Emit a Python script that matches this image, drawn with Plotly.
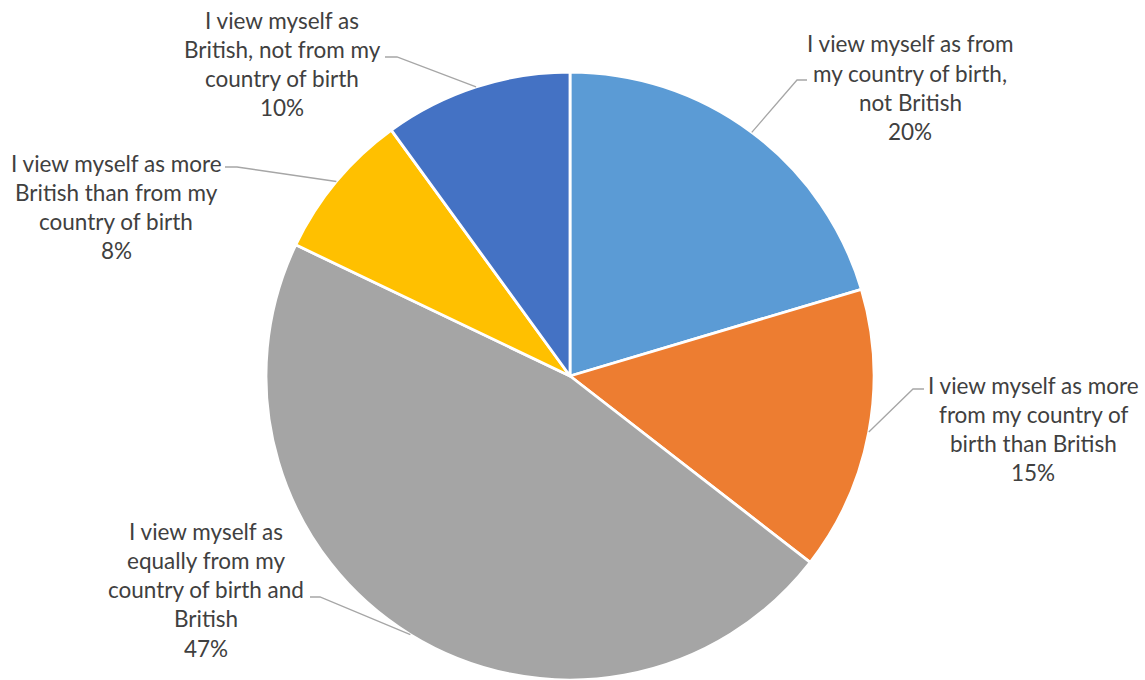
import math
import plotly.graph_objects as go

# ---- data ----
categories = [
    "I view myself as from my country of birth, not British",
    "I view myself as more from my country of birth than British",
    "I view myself as equally from my country of birth and British",
    "I view myself as more British than from my country of birth",
    "I view myself as British, not from my country of birth",
]
values = [20.4, 15.1, 46.6, 7.9, 10.0]
label_lines = [
    ["I view myself as from", "my country of birth,", "not British"],
    ["I view myself as more", "from my country of", "birth than British"],
    ["I view myself as", "equally from my", "country of birth and", "British"],
    ["I view myself as more", "British than from my", "country of birth"],
    ["I view myself as", "British, not from my", "country of birth"],
]
colors = ["#5B9BD5", "#ED7D31", "#A5A5A5", "#FFC000", "#4472C4"]

# ---- layout (pixels) ----
W, H = 1145, 680
CX, CY, R = 570, 376, 304
# label block: centre x, first line centre y ; knee (text end, knee end)
label_pos = [
    (910, 44, (807, 80), (797, 80)),
    (1033, 385, (924, 389), (913, 389)),
    (206, 531, (310, 597), (320, 597)),
    (116, 163, (225, 167), (237, 167)),
    (282, 20, (385, 57), (397, 57)),
]
LINE_H = 29.3
FONT = dict(family="Lato, Calibri, Carlito, sans-serif", size=22.5, color="#404040")


def px(x):
    return x / W


def py(y):
    return 1 - y / H


fig = go.Figure(
    go.Pie(
        labels=categories,
        values=values,
        marker=dict(colors=colors, line=dict(color="white", width=2.8)),
        sort=False,
        direction="clockwise",
        rotation=0,
        textinfo="none",
        hole=0,
        domain=dict(x=[px(CX - R), px(CX + R)], y=[py(CY + R), py(CY - R)]),
        showlegend=False,
    )
)

total = sum(values)
annotations = []
shapes = []
cum = 0.0
for v, lines, (lx, ly, knee0, knee1) in zip(values, label_lines, label_pos):
    mid = (cum + v / 2) / total * 2 * math.pi
    cum += v
    ax = CX + R * math.sin(mid)
    ay = CY - R * math.cos(mid)
    pct = f"{round(v / total * 100)}%"
    all_lines = lines + [pct]
    for i, t in enumerate(all_lines):
        annotations.append(
            dict(
                x=px(lx), y=py(ly + i * LINE_H), xref="paper", yref="paper",
                text=t, showarrow=False, xanchor="center", yanchor="middle",
                font=FONT,
            )
        )
    shapes.append(
        dict(
            type="path", xref="paper", yref="paper",
            path=f"M {px(knee0[0])},{py(knee0[1])} L {px(knee1[0])},{py(knee1[1])} L {px(ax)},{py(ay)}",
            line=dict(color="#A6A6A6", width=1.3),
        )
    )

fig.update_layout(
    width=W, height=H,
    margin=dict(l=0, r=0, t=0, b=0),
    paper_bgcolor="white", plot_bgcolor="white",
    annotations=annotations, shapes=shapes,
    showlegend=False,
)

fig.write_html(
    "out.html",
    config={"displayModeBar": False},
    post_script="document.body.style.margin='0';document.body.style.overflow='hidden';",
)
